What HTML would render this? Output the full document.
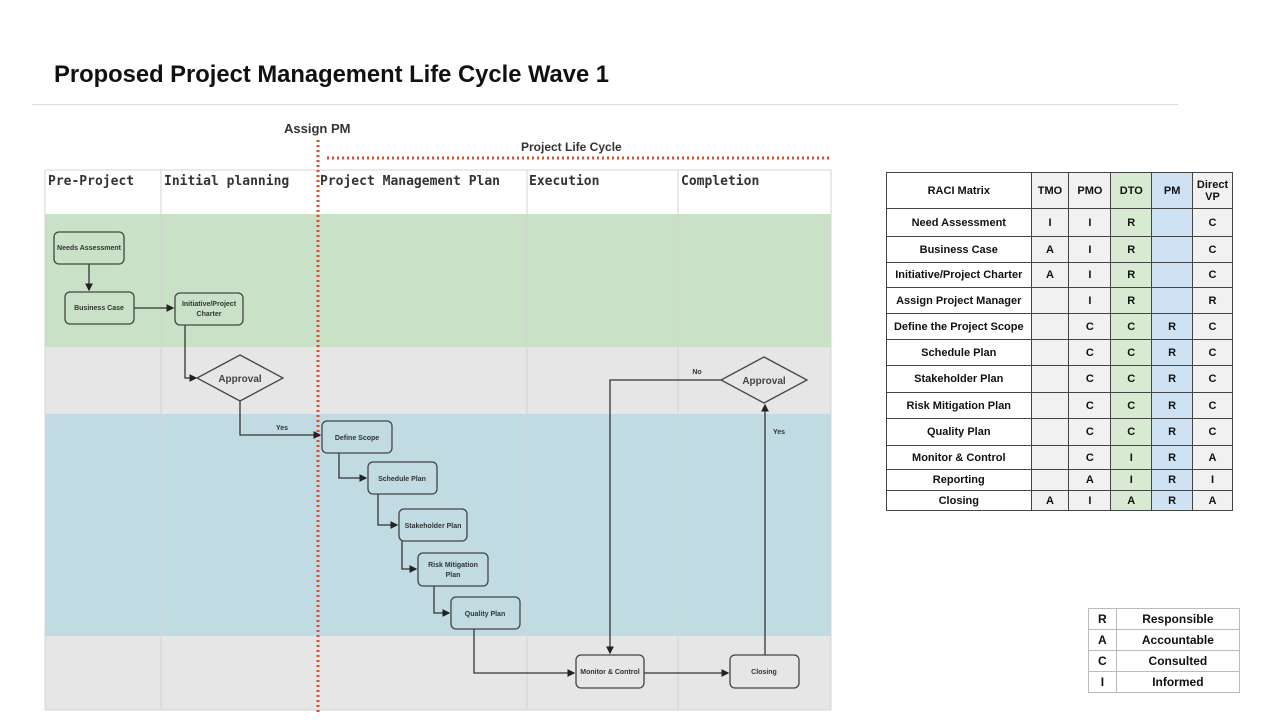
<!DOCTYPE html>
<html><head><meta charset="utf-8"><style>
body{margin:0;width:1280px;height:720px;background:#fff;position:relative;overflow:hidden;font-family:"Liberation Sans",sans-serif}
.t{position:absolute}
table{border-collapse:collapse;position:absolute;font-family:"Liberation Sans",sans-serif;font-weight:bold;font-size:11px;color:#111}
td{border:1px solid #444;text-align:center;padding:0;line-height:12px}
</style></head><body>
<div class="t" style="left:54px;top:61px;font-size:24px;font-weight:bold;color:#111;font-family:'Liberation Sans',sans-serif;white-space:nowrap;transform:scaleX(0.99);transform-origin:0 0">Proposed Project Management Life Cycle Wave 1</div>
<div class="t" style="left:32px;top:104px;width:1146px;height:1px;background:#ddd"></div>

<svg class="t" style="left:0;top:0" width="880" height="720" font-family="Liberation Sans, sans-serif">
<defs><marker id="a" markerWidth="6" markerHeight="6" refX="5" refY="3" orient="auto"><path d="M0,0L6,3L0,6z" fill="#222"/></marker></defs>
<rect x="45" y="170" width="786" height="44" fill="#fff"/>
<rect x="45" y="214" width="786" height="133" fill="#c8e1c7"/>
<rect x="45" y="347" width="786" height="67" fill="#e6e6e6"/>
<rect x="45" y="414" width="786" height="222" fill="#c0dce2"/>
<rect x="45" y="636" width="786" height="74" fill="#e6e6e6"/>
<g stroke="#d4d4d4" stroke-width="1">
<line x1="45" y1="170" x2="831" y2="170"/><line x1="45" y1="170" x2="45" y2="710"/><line x1="831" y1="170" x2="831" y2="710"/>
<line x1="161" y1="170" x2="161" y2="710"/><line x1="527" y1="170" x2="527" y2="710"/><line x1="678" y1="170" x2="678" y2="710"/>
<line x1="45" y1="710" x2="831" y2="710"/>
</g>
<g font-family="DejaVu Sans Mono, Liberation Mono, monospace" font-size="13" font-weight="bold" fill="#333">
<text x="48" y="185">Pre-Project</text><text x="164" y="185">Initial planning</text><text x="320" y="185">Project Management Plan</text><text x="529" y="185">Execution</text><text x="681" y="185">Completion</text>
</g>
<text x="284" y="133" font-size="13" font-weight="bold" fill="#333">Assign PM</text>
<text x="521" y="151" font-size="12" font-weight="bold" fill="#333">Project Life Cycle</text>
<line x1="318" y1="140" x2="318" y2="714" stroke="#e04a2f" stroke-width="3" stroke-dasharray="2 3"/>
<line x1="327" y1="158" x2="831" y2="158" stroke="#e04a2f" stroke-width="3" stroke-dasharray="2 3"/>
<g fill="none" stroke="#333" stroke-width="1.3">
<path d="M89 264V290" marker-end="url(#a)"/>
<path d="M134 308H173" marker-end="url(#a)"/>
<path d="M185 325V378H196" marker-end="url(#a)"/>
<path d="M240 401V435H320" marker-end="url(#a)"/>
<path d="M339 453V478H366" marker-end="url(#a)"/>
<path d="M378 494V525H397" marker-end="url(#a)"/>
<path d="M402 541V569H416" marker-end="url(#a)"/>
<path d="M434 586V613H449" marker-end="url(#a)"/>
<path d="M474 629V673H574" marker-end="url(#a)"/>
<path d="M644 673H728" marker-end="url(#a)"/>
<path d="M765 655V405" marker-end="url(#a)"/>
<path d="M721 380H610V653" marker-end="url(#a)"/>
</g>
<g fill="#c8e1c7" stroke="#444" stroke-width="1.3">
<rect x="54" y="232" width="70" height="32" rx="5"/><rect x="65" y="292" width="69" height="32" rx="5"/><rect x="175" y="293" width="68" height="32" rx="5"/>
</g>
<g fill="#c0dce2" stroke="#444" stroke-width="1.3">
<rect x="322" y="421" width="70" height="32" rx="5"/><rect x="368" y="462" width="69" height="32" rx="5"/><rect x="399" y="509" width="68" height="32" rx="5"/><rect x="418" y="553" width="70" height="33" rx="5"/><rect x="451" y="597" width="69" height="32" rx="5"/>
</g>
<g fill="#e6e6e6" stroke="#444" stroke-width="1.3">
<rect x="576" y="655" width="68" height="33" rx="5"/><rect x="730" y="655" width="69" height="33" rx="5"/>
<path d="M240 355L283 378L240 401L197 378Z"/><path d="M764 357L807 380L764 403L721 380Z"/>
</g>
<g font-size="7" font-weight="bold" fill="#333" text-anchor="middle">
<text x="89" y="250">Needs Assessment</text><text x="99" y="310">Business Case</text>
<text x="209" y="306">Initiative/Project</text><text x="209" y="316">Charter</text>
<text x="357" y="440">Define Scope</text><text x="402" y="481">Schedule Plan</text><text x="433" y="528">Stakeholder Plan</text>
<text x="453" y="567">Risk Mitigation</text><text x="453" y="577">Plan</text><text x="485" y="616">Quality Plan</text>
<text x="610" y="674">Monitor &amp; Control</text><text x="764" y="674">Closing</text>
<text x="282" y="430">Yes</text><text x="697" y="374">No</text><text x="779" y="434">Yes</text>
</g>
<g font-size="10" font-weight="bold" fill="#444" text-anchor="middle"><text x="240" y="382">Approval</text><text x="764" y="384">Approval</text></g>
</svg>

<table style="left:886px;top:172px;width:347px">
<colgroup><col style="width:145px"><col style="width:38px"><col style="width:42px"><col style="width:41px"><col style="width:41px"><col style="width:40px"></colgroup>
<tr style="height:36px"><td>RACI Matrix</td><td style="background:#f1f1f1">TMO</td><td style="background:#f1f1f1">PMO</td><td style="background:#d9ead3">DTO</td><td style="background:#cfe2f3">PM</td><td style="background:#f1f1f1">Direct<br>VP</td></tr>
<tr style="height:28px"><td>Need Assessment</td><td style="background:#f1f1f1">I</td><td style="background:#f1f1f1">I</td><td style="background:#d9ead3">R</td><td style="background:#cfe2f3"></td><td style="background:#f1f1f1">C</td></tr>
<tr style="height:26px"><td>Business Case</td><td style="background:#f1f1f1">A</td><td style="background:#f1f1f1">I</td><td style="background:#d9ead3">R</td><td style="background:#cfe2f3"></td><td style="background:#f1f1f1">C</td></tr>
<tr style="height:25px"><td>Initiative/Project Charter</td><td style="background:#f1f1f1">A</td><td style="background:#f1f1f1">I</td><td style="background:#d9ead3">R</td><td style="background:#cfe2f3"></td><td style="background:#f1f1f1">C</td></tr>
<tr style="height:26px"><td>Assign Project Manager</td><td style="background:#f1f1f1"></td><td style="background:#f1f1f1">I</td><td style="background:#d9ead3">R</td><td style="background:#cfe2f3"></td><td style="background:#f1f1f1">R</td></tr>
<tr style="height:26px"><td>Define the Project Scope</td><td style="background:#f1f1f1"></td><td style="background:#f1f1f1">C</td><td style="background:#d9ead3">C</td><td style="background:#cfe2f3">R</td><td style="background:#f1f1f1">C</td></tr>
<tr style="height:26px"><td>Schedule Plan</td><td style="background:#f1f1f1"></td><td style="background:#f1f1f1">C</td><td style="background:#d9ead3">C</td><td style="background:#cfe2f3">R</td><td style="background:#f1f1f1">C</td></tr>
<tr style="height:27px"><td>Stakeholder Plan</td><td style="background:#f1f1f1"></td><td style="background:#f1f1f1">C</td><td style="background:#d9ead3">C</td><td style="background:#cfe2f3">R</td><td style="background:#f1f1f1">C</td></tr>
<tr style="height:26px"><td>Risk Mitigation Plan</td><td style="background:#f1f1f1"></td><td style="background:#f1f1f1">C</td><td style="background:#d9ead3">C</td><td style="background:#cfe2f3">R</td><td style="background:#f1f1f1">C</td></tr>
<tr style="height:27px"><td>Quality Plan</td><td style="background:#f1f1f1"></td><td style="background:#f1f1f1">C</td><td style="background:#d9ead3">C</td><td style="background:#cfe2f3">R</td><td style="background:#f1f1f1">C</td></tr>
<tr style="height:24px"><td>Monitor &amp; Control</td><td style="background:#f1f1f1"></td><td style="background:#f1f1f1">C</td><td style="background:#d9ead3">I</td><td style="background:#cfe2f3">R</td><td style="background:#f1f1f1">A</td></tr>
<tr style="height:21px"><td>Reporting</td><td style="background:#f1f1f1"></td><td style="background:#f1f1f1">A</td><td style="background:#d9ead3">I</td><td style="background:#cfe2f3">R</td><td style="background:#f1f1f1">I</td></tr>
<tr style="height:20px"><td>Closing</td><td style="background:#f1f1f1">A</td><td style="background:#f1f1f1">I</td><td style="background:#d9ead3">A</td><td style="background:#cfe2f3">R</td><td style="background:#f1f1f1">A</td></tr>
</table>

<table style="left:1088px;top:608px;width:152px;font-size:12px">
<colgroup><col style="width:28px"><col style="width:124px"></colgroup>
<tr style="height:21px"><td style="border-color:#bbb">R</td><td style="border-color:#bbb">Responsible</td></tr>
<tr style="height:21px"><td style="border-color:#bbb">A</td><td style="border-color:#bbb">Accountable</td></tr>
<tr style="height:21px"><td style="border-color:#bbb">C</td><td style="border-color:#bbb">Consulted</td></tr>
<tr style="height:21px"><td style="border-color:#bbb">I</td><td style="border-color:#bbb">Informed</td></tr>
</table>
</body></html>
